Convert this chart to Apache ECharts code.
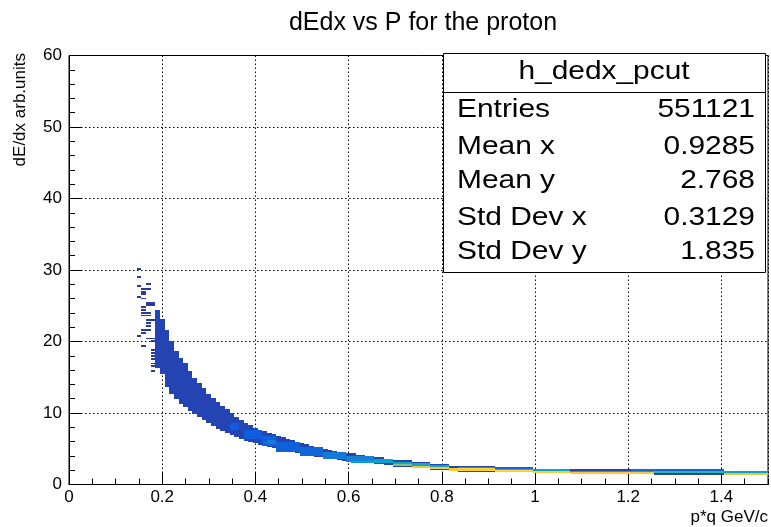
<!DOCTYPE html>
<html>
<head>
<meta charset="utf-8">
<script src="https://cdn.jsdelivr.net/npm/echarts@6/dist/echarts.min.js"></script>
<style>
  html, body { margin: 0; padding: 0; background: #fff; }
  #chart { width: 771px; height: 527px; }
</style>
</head>
<body>
<div id="chart"></div>
<script>
// h_dedx_pcut: dE/dx versus momentum for protons (TH2, COL draw option).
// Filled bins are stored as runs of equal-looking cells:
// [p from, p to, dE/dx from, dE/dx to, entries per bin]

// Main body of the proton band
const bandRuns = [
  [0.185, 0.195, 16.3, 24.4, 150],
  [0.195, 0.205, 15.5, 23.2, 150],
  [0.205, 0.215, 13.6, 21.6, 150],
  [0.215, 0.225, 12.7, 20.1, 150],
  [0.225, 0.235, 12.0, 18.7, 150],
  [0.235, 0.245, 11.3, 17.7, 150],
  [0.245, 0.255, 10.8, 17.0, 150],
  [0.255, 0.265, 10.3, 15.9, 150],
  [0.265, 0.275, 9.9, 14.9, 150],
  [0.275, 0.285, 9.4, 14.2, 150],
  [0.285, 0.295, 9.0, 13.5, 150],
  [0.295, 0.305, 8.6, 12.7, 150],
  [0.305, 0.315, 8.2, 12.1, 150],
  [0.315, 0.325, 7.8, 11.5, 150],
  [0.325, 0.335, 7.5, 11.0, 150],
  [0.335, 0.345, 7.2, 10.5, 150],
  [0.345, 0.355, 6.9, 10.0, 150],
  [0.355, 0.365, 6.6, 9.5, 150],
  [0.365, 0.375, 6.35, 9.05, 150],
  [0.375, 0.385, 6.15, 8.65, 150],
  [0.385, 0.395, 5.95, 8.3, 150],
  [0.395, 0.405, 5.75, 7.95, 150],
  [0.405, 0.415, 5.55, 7.65, 150],
  [0.415, 0.425, 5.35, 7.45, 150],
  [0.425, 0.435, 5.2, 7.25, 150],
  [0.435, 0.445, 5.05, 7.05, 150],
  [0.445, 0.455, 4.9, 6.8, 150],
  [0.455, 0.465, 4.8, 6.6, 150],
  [0.465, 0.475, 4.7, 6.4, 150],
  [0.475, 0.485, 4.6, 6.2, 150],
  [0.485, 0.495, 4.4, 6.0, 150],
  [0.495, 0.505, 4.3, 5.8, 150],
  [0.505, 0.515, 4.1, 5.6, 150],
  [0.515, 0.525, 4.0, 5.45, 150],
  [0.525, 0.535, 3.9, 5.3, 150],
  [0.535, 0.545, 3.8, 5.15, 150],
  [0.545, 0.555, 3.7, 5.0, 150],
  [0.555, 0.565, 3.6, 4.85, 150],
  [0.565, 0.575, 3.5, 4.7, 150],
  [0.575, 0.585, 3.4, 4.6, 150],
  [0.585, 0.595, 3.3, 4.5, 150],
  [0.595, 0.615, 3.2, 4.35, 150],
  [0.615, 0.635, 3.1, 4.15, 150],
  [0.635, 0.655, 3.0, 3.95, 150],
  [0.655, 0.675, 2.85, 3.8, 150],
  [0.675, 0.695, 2.75, 3.6, 150],
  [0.695, 0.735, 2.5, 3.4, 150],
  [0.735, 0.775, 2.3, 3.15, 150],
  [0.775, 0.815, 2.05, 2.9, 150],
  [0.815, 0.835, 1.9, 2.6, 150],
  [0.835, 0.915, 1.8, 2.55, 150],
  [0.915, 0.995, 1.7, 2.4, 150],
  [0.995, 1.075, 1.55, 2.2, 150],
  [1.075, 1.255, 1.45, 2.1, 150],
  [1.255, 1.405, 1.3, 2.1, 150],
  [1.405, 1.5, 1.3, 1.85, 150]
];

// Isolated low-momentum bins scattered above the band: [p from, dE/dx from]
const sparseCells = [
  [0.145, 30.0], [0.145, 28.9], [0.165, 27.9], [0.145, 27.6], [0.155, 27.2],
  [0.165, 27.2], [0.155, 26.8], [0.155, 26.5], [0.145, 26.1], [0.155, 25.9],
  [0.165, 25.0], [0.165, 25.25], [0.175, 25.0], [0.175, 25.25], [0.155, 24.7],
  [0.155, 24.3], [0.155, 23.9], [0.165, 23.9], [0.155, 23.5], [0.165, 23.5],
  [0.165, 22.9], [0.175, 22.9], [0.165, 22.5], [0.165, 22.0], [0.155, 21.5],
  [0.165, 21.5], [0.155, 21.1], [0.145, 20.6], [0.165, 20.3], [0.175, 20.3],
  [0.175, 19.9], [0.155, 19.3], [0.175, 18.7], [0.175, 18.3], [0.175, 17.8],
  [0.175, 17.4], [0.175, 16.8], [0.175, 16.4], [0.175, 15.8]
];
const sparseEntries = 4;
const binWidthP = 0.01;
const binWidthE = 0.25;

// Densely populated bins along the band at higher momentum
const denseRuns = [
  [0.345, 0.365, 7.6, 8.6, 520],
  [0.375, 0.415, 6.4, 7.6, 520],
  [0.415, 0.445, 5.4, 6.8, 560],
  [0.425, 0.445, 5.6, 6.2, 900],
  [0.445, 0.495, 4.6, 6.0, 560],
  [0.495, 0.545, 4.0, 5.2, 620],
  [0.545, 0.595, 3.5, 4.6, 900],
  [0.595, 0.655, 3.2, 4.0, 1000],
  [0.605, 0.655, 3.0, 3.3, 1500],
  [0.655, 0.695, 2.95, 3.5, 1500],
  [0.695, 0.735, 2.85, 3.2, 1600],
  [0.695, 0.735, 2.6, 2.85, 2500],
  [0.735, 0.775, 2.6, 2.95, 1600],
  [0.735, 0.775, 2.3, 2.6, 3300],
  [0.775, 0.815, 2.4, 2.7, 1600],
  [0.775, 0.815, 2.1, 2.4, 3500],
  [0.815, 0.835, 1.95, 2.35, 3500],
  [0.835, 0.915, 2.25, 2.4, 1500],
  [0.835, 0.915, 1.85, 2.25, 3600],
  [0.915, 0.995, 2.2, 2.4, 600],
  [0.915, 0.995, 2.0, 2.2, 2000],
  [0.915, 0.995, 1.75, 2.0, 3600],
  [0.995, 1.075, 1.95, 2.2, 1500],
  [0.995, 1.075, 1.6, 1.95, 3500],
  [1.075, 1.205, 1.75, 1.9, 1500],
  [1.075, 1.205, 1.5, 1.75, 3500],
  [1.205, 1.255, 1.9, 2.1, 700],
  [1.205, 1.255, 1.8, 1.9, 1500],
  [1.205, 1.255, 1.45, 1.8, 3500],
  [1.255, 1.405, 1.9, 2.1, 600],
  [1.255, 1.405, 1.6, 1.9, 2000],
  [1.405, 1.5, 1.65, 1.85, 1500],
  [1.405, 1.5, 1.3, 1.65, 3300]
];
const maxEntries = 4000;

// Statistics box
const statsName = 'h_dedx_pcut';
const statsLabels = ['Entries', 'Mean x', 'Mean y', 'Std Dev x', 'Std Dev y'];
const statsValues = ['551121', '0.9285', '2.768', '0.3129', '1.835'];

// Axes
const pRange = [0, 1.5];
const dedxRange = [0, 60];

const FONT = 'Liberation Sans, Arial, Helvetica, sans-serif';

// Bird palette used for the bin contents
const birdPalette = ['#2b3a9f', '#0f5cdd', '#1481d6', '#06a4ca', '#2eb7a4',
                     '#87bf77', '#d1bb59', '#fec832', '#f9fb0e'];

// One rectangle per run of bins, snapped to whole pixels so neighbouring
// columns join without seams
function renderBin(params, api) {
  const lowLeft = api.coord([api.value(0), api.value(2)]);
  const upRight = api.coord([api.value(1), api.value(3)]);
  const x0 = Math.round(lowLeft[0]);
  const x1 = Math.round(upRight[0]);
  const y0 = Math.round(upRight[1]);
  const y1 = Math.max(Math.round(lowLeft[1]), y0 + 1);
  return {
    type: 'rect',
    shape: { x: x0, y: y0, width: x1 - x0, height: y1 - y0 },
    style: { fill: api.visual('color') }
  };
}

const sparseRuns = sparseCells.map(c => [c[0], c[0] + binWidthP, c[1], c[1] + binWidthE, sparseEntries]);

function binSeries(name, data) {
  return {
    name: name,
    type: 'custom',
    renderItem: renderBin,
    data: data,
    encode: { x: [0, 1], y: [2, 3] },
    silent: true,
    animation: false
  };
}

const statsTop = 53, statsLeft = 443, statsRight = 765, statsBottom = 272;
const rowY = [110, 147, 181, 218, 252];
const textStretch = 1.15;
function statsText(str, x, y, align) {
  return {
    type: 'text', z: 101, x: x, y: y, scaleX: textStretch,
    style: { text: str, font: '26px ' + FONT, fill: '#000', textAlign: align, textVerticalAlign: 'middle' }
  };
}
const statsGraphics = [
  {
    type: 'rect', z: 100,
    shape: { x: statsLeft + 0.5, y: statsTop + 0.5, width: statsRight - statsLeft, height: statsBottom - statsTop },
    style: { fill: '#fff', stroke: '#000', lineWidth: 1 }
  },
  {
    type: 'line', z: 101,
    shape: { x1: statsLeft, y1: 92.5, x2: statsRight, y2: 92.5 },
    style: { stroke: '#000', lineWidth: 1 }
  },
  statsText(statsName, 604, 72, 'center')
];
statsLabels.forEach((label, i) => {
  statsGraphics.push(statsText(label, 457, rowY[i], 'left'));
  statsGraphics.push(statsText(statsValues[i], 755, rowY[i], 'right'));
});
// Vertical axis title, reading upwards and ending at the top of the frame
statsGraphics.push({
  type: 'text', z: 101, x: 20, y: 53, rotation: Math.PI / 2,
  style: { text: 'dE/dx arb.units', font: '17px ' + FONT, fill: '#000', textAlign: 'right', textVerticalAlign: 'middle' }
});

const gridLine = { show: true, lineStyle: { color: '#000', width: 1, type: [1.5, 2.5] } };

const chart = echarts.init(document.getElementById('chart'), null, { renderer: 'canvas' });
chart.setOption({
  animation: false,
  backgroundColor: '#fff',
  title: {
    text: 'dEdx vs P for the proton',
    left: 418, top: 6, textAlign: 'center',
    textStyle: { fontFamily: FONT, fontSize: 25, fontWeight: 'normal', color: '#000' }
  },
  grid: {
    left: 69, right: 1, top: 55.5, bottom: 42.5,
    show: true, borderColor: '#000', borderWidth: 1, backgroundColor: 'transparent'
  },
  visualMap: {
    type: 'continuous', show: false, dimension: 4,
    min: 0, max: maxEntries,
    inRange: { color: birdPalette }
  },
  xAxis: [
    {
      type: 'value', min: pRange[0], max: pRange[1], interval: 0.2, position: 'bottom',
      name: 'p*q GeV/c', nameLocation: 'end', nameGap: 0,
      nameTextStyle: { fontFamily: FONT, fontSize: 17, color: '#000', align: 'right', verticalAlign: 'top', padding: [24, 0, 0, 0] },
      axisLine: { show: true, onZero: false, lineStyle: { color: '#000', width: 1 } },
      axisTick: { show: true, inside: true, length: 12, lineStyle: { color: '#000' } },
      axisLabel: { fontFamily: FONT, fontSize: 17, color: '#000', margin: 4, showMaxLabel: false },
      splitLine: gridLine
    },
    {
      type: 'value', min: pRange[0], max: pRange[1], interval: 0.05, position: 'bottom', offset: 0,
      axisLine: { show: false },
      axisTick: { show: true, inside: true, length: 6, lineStyle: { color: '#000' } },
      axisLabel: { show: false },
      splitLine: { show: false }
    }
  ],
  yAxis: {
    type: 'value', min: dedxRange[0], max: dedxRange[1], interval: 10,
    axisLine: { show: true, onZero: false, lineStyle: { color: '#000', width: 1 } },
    axisTick: { show: true, inside: true, length: 12, lineStyle: { color: '#000' } },
    minorTick: { show: true, splitNumber: 5, length: 6, lineStyle: { color: '#000' } },
    axisLabel: { fontFamily: FONT, fontSize: 17, color: '#000', margin: 7 },
    splitLine: gridLine
  },
  series: [
    binSeries('band', bandRuns),
    binSeries('sparse', sparseRuns),
    binSeries('dense', denseRuns)
  ],
  graphic: statsGraphics
});
</script>
</body>
</html>
